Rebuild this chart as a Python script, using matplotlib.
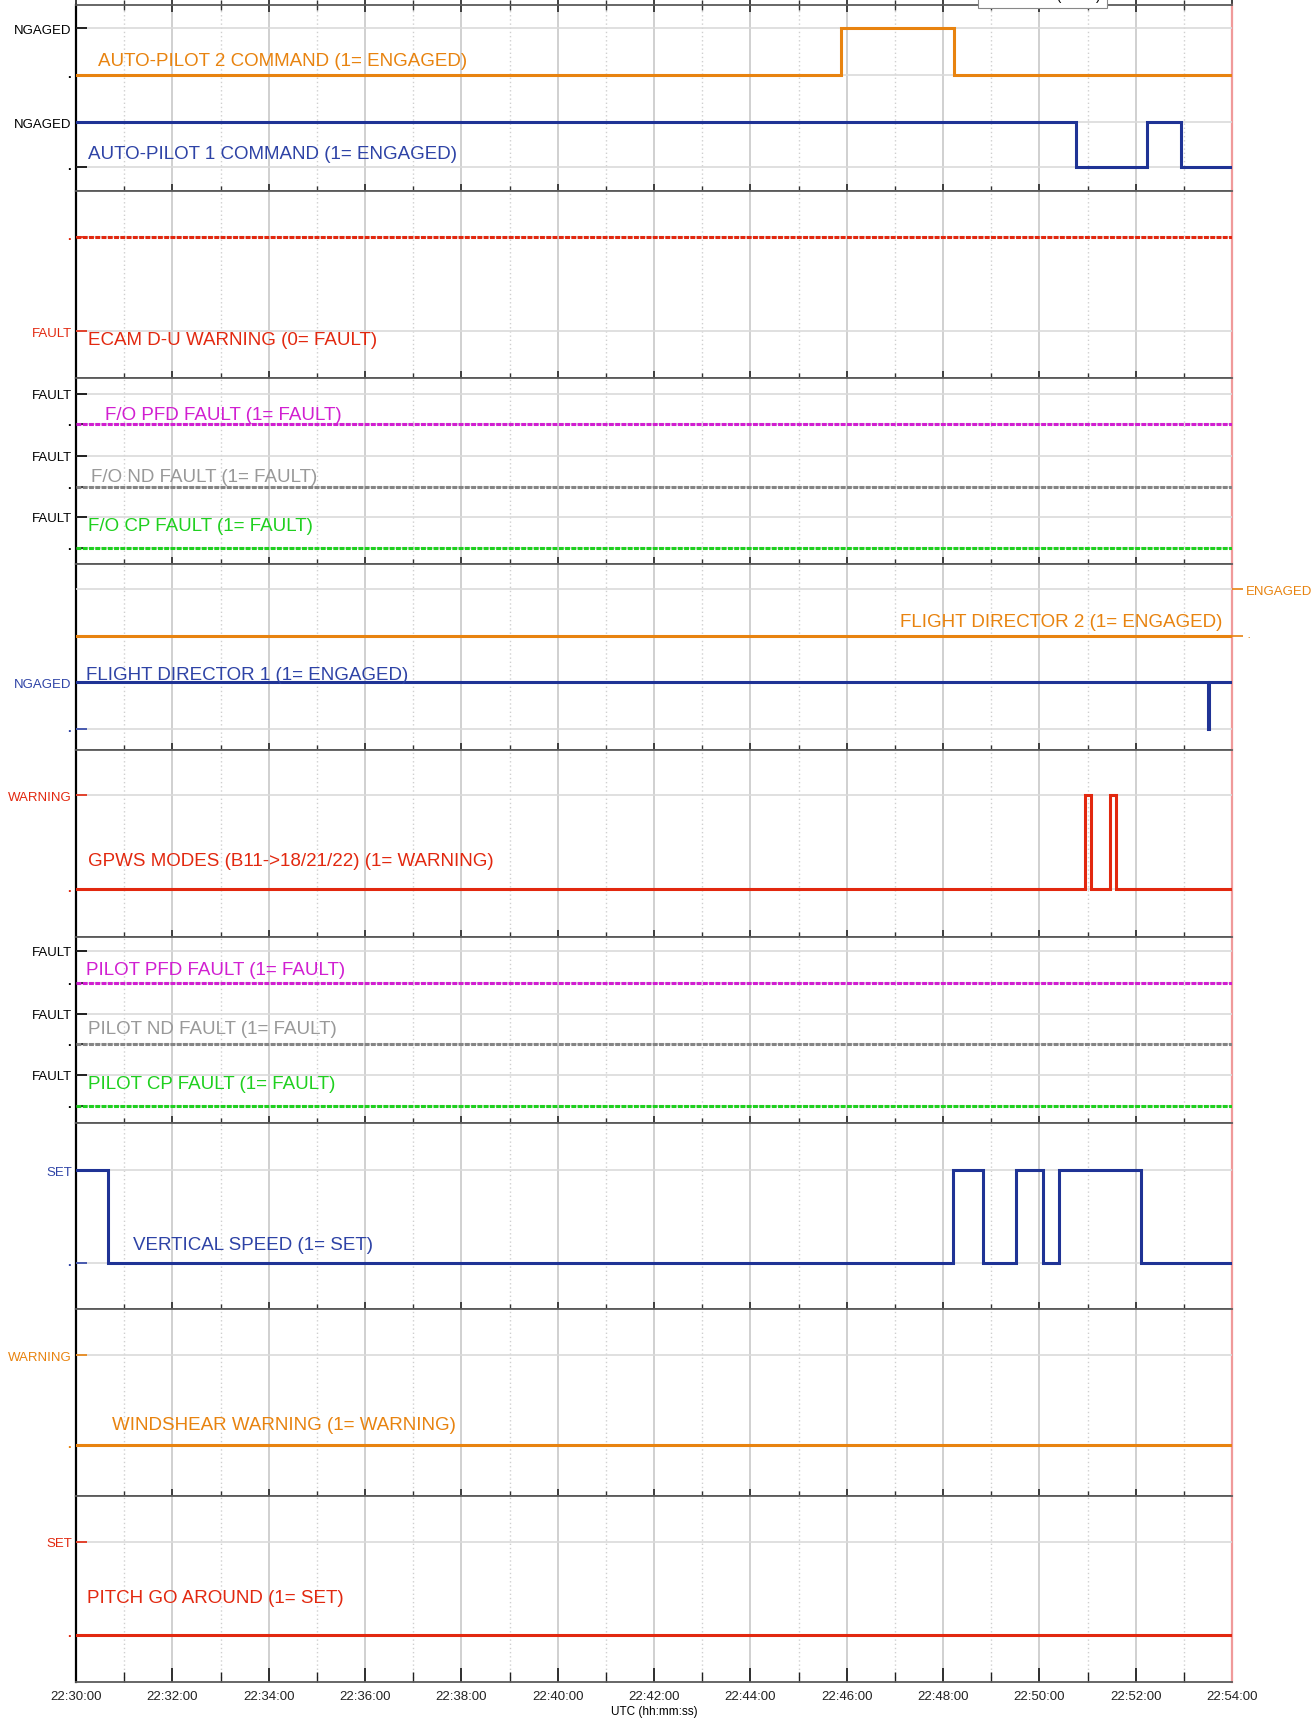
import matplotlib
matplotlib.use('Agg')
import matplotlib.pyplot as plt
import matplotlib.dates as mdates
import matplotlib.transforms as mtransforms
import pandas as pd

plt.rcParams['font.family'] = ['Liberation Sans', 'DejaVu Sans']

DAY = '2009-06-01 '
t_start = '22:30:00'
t_end = '22:54:00'
full = [t_start, t_end]

# discrete parameters: time of each state change and the state from then on
ap2_t = ['22:30:00', '22:45:53', '22:48:14', '22:54:00']
ap2_v = [0, 1, 0, 0]
ap1_t = ['22:30:00', '22:50:46', '22:52:14', '22:52:56', '22:54:00']
ap1_v = [1, 0, 1, 0, 0]
ecam_v = [1, 1]
fo_pfd_v = [0, 0]
fo_nd_v = [0, 0]
fo_cp_v = [0, 0]
fd2_v = [0, 0]
fd1_t = ['22:30:00', '22:53:30', '22:53:31', '22:54:00']
fd1_v = [1, 0, 1, 1]
gpws_t = ['22:30:00', '22:50:57', '22:51:04', '22:51:28', '22:51:35', '22:54:00']
gpws_v = [0, 1, 0, 1, 0, 0]
pil_pfd_v = [0, 0]
pil_nd_v = [0, 0]
pil_cp_v = [0, 0]
vs_t = ['22:30:00', '22:30:40', '22:48:13', '22:48:50', '22:49:31',
        '22:50:04', '22:50:25', '22:52:07', '22:54:00']
vs_v = [1, 0, 1, 0, 1, 0, 1, 0, 0]
ws_v = [0, 0]
pga_v = [0, 0]

ORANGE = '#e8830f'
BLUE = '#1f3395'
RED = '#e2280f'
MAGENTA = '#d11fd1'
GREY = '#858585'
GREEN = '#1fd01f'
DOTS = (0, (1.6, 0.45))


def ts(times):
    return pd.to_datetime([DAY + t for t in times])


fig = plt.figure(figsize=(13.16, 17.24), dpi=100)
gs = fig.add_gridspec(9, 1, left=76 / 1316, right=1232 / 1316,
                      top=1 - 6 / 1724, bottom=1 - 1683 / 1724, hspace=0)
PANEL_H = 186.3  # panel height in pixels

x0, x1 = ts(full)
panels = []
for i in range(9):
    ax = fig.add_subplot(gs[i], sharex=panels[0] if panels else None)
    ax.set_xlim(x0, x1)
    ax.set_yticks([])
    ax.xaxis.set_major_locator(mdates.MinuteLocator(byminute=range(0, 60, 2)))
    ax.xaxis.set_minor_locator(mdates.MinuteLocator())
    ax.grid(True, which='major', axis='x', color='#c8c8c8', lw=1.2)
    ax.grid(True, which='minor', axis='x', color='#cfcfcf', lw=1.0, ls=(0, (1, 2)))
    for s in ('top', 'bottom'):
        ax.spines[s].set_color('#5a5a5a')
        ax.spines[s].set_linewidth(1.3)
    ax.spines['left'].set_color('black')
    ax.spines['left'].set_linewidth(1.6)
    ax.spines['right'].set_color('#f09a9a')
    ax.spines['right'].set_linewidth(1.6)
    ax.tick_params(axis='x', which='both', direction='inout', colors='#333333',
                   labelbottom=False)
    ax.tick_params(axis='x', which='major', length=10, width=1.3)
    ax.tick_params(axis='x', which='minor', length=7, width=1.0)
    panels.append(ax)

panels[0].tick_params(axis='x', which='both', top=True)
last = panels[-1]
last.tick_params(axis='x', which='both', direction='in', labelbottom=True,
                 labelsize=9.5, pad=6, colors='#222222')
last.xaxis.set_major_formatter(mdates.DateFormatter('%H:%M:%S'))
last.set_xlabel('UTC (hh:mm:ss)', fontsize=8.5, labelpad=2)


def add_signal(panel, times, values, hi, lo, color, ticks, tickcolor,
               label, lx, ly, textcolor=None, ls='-', right=False, ha='left'):
    ax = fig.add_axes(panel.get_position(), sharex=panel)
    ax.patch.set_visible(False)
    for s in ax.spines.values():
        s.set_visible(False)
    # hi / lo: pixel offsets of states 1 and 0 from the panel top
    f1, f0 = hi / PANEL_H, lo / PANEL_H
    span = 1 / (f0 - f1)
    vb = -(1 - f0) * span
    ax.set_ylim(vb, vb + span)
    ax.step(ts(times), values, where='post', color=color, lw=2.2, ls=ls,
            solid_joinstyle='miter')
    ax.set_yticks([0, 1])
    ax.set_yticklabels(ticks)
    for lab in ax.get_yticklabels():
        if lab.get_text() == '·':
            lab.set_fontsize(12)
            lab.set_fontweight('bold')
    ax.tick_params(axis='x', which='both', bottom=False, top=False,
                   labelbottom=False)
    ax.tick_params(axis='y', direction='in', length=8, width=1.2,
                   color=tickcolor, labelcolor=tickcolor, labelsize=9.5, pad=3)
    if right:
        ax.yaxis.tick_right()
        ax.tick_params(axis='y', direction='out', length=8, pad=2)
    ax.grid(True, axis='y', color='#dadada', lw=1.2)
    ax.set_axisbelow(True)
    trans = mtransforms.blended_transform_factory(ax.transAxes, ax.transData)
    ax.text(lx, ly, label, transform=trans, color=textcolor or color,
            fontsize=13.5, ha=ha, va='center')
    return ax


p = panels
add_signal(p[0], ap2_t, ap2_v, 23, 70, ORANGE, ['·', 'NGAGED'], 'black',
           'AUTO-PILOT 2 COMMAND (1= ENGAGED)', 0.019, 0.30)
add_signal(p[0], ap1_t, ap1_v, 117, 162, BLUE, ['·', 'NGAGED'], 'black',
           'AUTO-PILOT 1 COMMAND (1= ENGAGED)', 0.0104, 0.29, textcolor='#2e43a6')
add_signal(p[1], full, ecam_v, 46, 140, RED, ['FAULT', '·'], RED,
           'ECAM D-U WARNING (0= FAULT)', 0.0104, -0.09, ls=DOTS)
add_signal(p[2], full, fo_pfd_v, 16, 46, MAGENTA, ['·', 'FAULT'], 'black',
           'F/O PFD FAULT (1= FAULT)', 0.025, 0.30, ls=DOTS)
add_signal(p[2], full, fo_nd_v, 78, 109, GREY, ['·', 'FAULT'], 'black',
           'F/O ND FAULT (1= FAULT)', 0.013, 0.32, textcolor='#999999', ls=DOTS)
add_signal(p[2], full, fo_cp_v, 139, 170, GREEN, ['·', 'FAULT'], 'black',
           'F/O CP FAULT (1= FAULT)', 0.0104, 0.71, ls=DOTS)
add_signal(p[3], full, fd2_v, 25, 72, ORANGE, ['·', 'ENGAGED'], ORANGE,
           'FLIGHT DIRECTOR 2 (1= ENGAGED)', 0.992, 0.30, right=True, ha='right')
add_signal(p[3], fd1_t, fd1_v, 118, 165, BLUE, ['·', 'NGAGED'], '#2e43a6',
           'FLIGHT DIRECTOR 1 (1= ENGAGED)', 0.0087, 1.15, textcolor='#2e43a6')
add_signal(p[4], gpws_t, gpws_v, 45, 139, RED, ['·', 'WARNING'], RED,
           'GPWS MODES (B11->18/21/22) (1= WARNING)', 0.0104, 0.31)
add_signal(p[5], full, pil_pfd_v, 14, 46, MAGENTA, ['·', 'FAULT'], 'black',
           'PILOT PFD FAULT (1= FAULT)', 0.0087, 0.41, ls=DOTS)
add_signal(p[5], full, pil_nd_v, 77, 107, GREY, ['·', 'FAULT'], 'black',
           'PILOT ND FAULT (1= FAULT)', 0.0104, 0.50, textcolor='#999999', ls=DOTS)
add_signal(p[5], full, pil_cp_v, 138, 169, GREEN, ['·', 'FAULT'], 'black',
           'PILOT CP FAULT (1= FAULT)', 0.0104, 0.71, ls=DOTS)
add_signal(p[6], vs_t, vs_v, 47, 140, BLUE, ['·', 'SET'], '#2e43a6',
           'VERTICAL SPEED (1= SET)', 0.049, 0.20, textcolor='#2e43a6')
add_signal(p[7], full, ws_v, 46, 136, ORANGE, ['·', 'WARNING'], ORANGE,
           'WINDSHEAR WARNING (1= WARNING)', 0.031, 0.23)
add_signal(p[8], full, pga_v, 46, 139, RED, ['·', 'SET'], RED,
           'PITCH GO AROUND (1= SET)', 0.0095, 0.40)

# date stamp box sitting on the upper edge of the sheet
fig.text(0.792, 1 - 3 / 1724, '03/06/2009 (16:21)', ha='center', va='bottom',
         fontsize=10, bbox=dict(fc='white', ec='#888888', lw=0.8))

fig.savefig('out.png', dpi=100)
